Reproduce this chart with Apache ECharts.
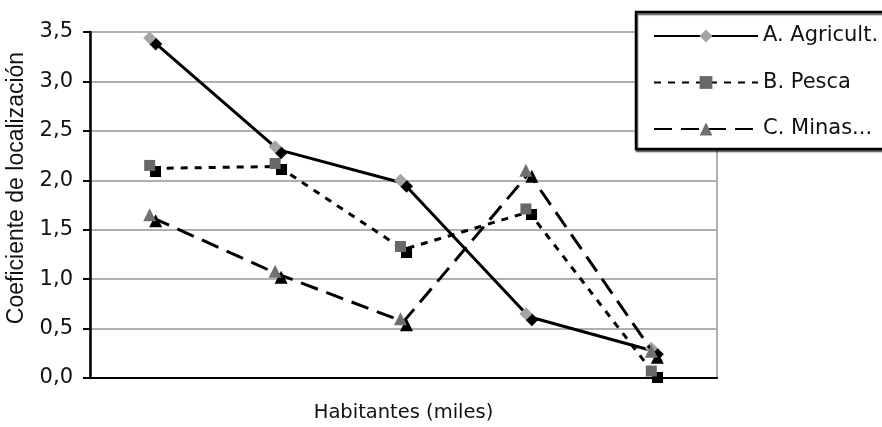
<!DOCTYPE html>
<html>
<head>
<meta charset="utf-8">
<script src="https://cdn.jsdelivr.net/npm/echarts@6/dist/echarts.min.js"></script>
<style>html,body{margin:0;padding:0;background:#fff;}#c{width:882px;height:427px;}</style>
</head>
<body>
<div id="c"></div>
<script>
const categories = ['1', '2', '3', '4', '5'];
const agricultura = [3.41, 2.31, 1.97, 0.62, 0.27];
const pesca = [2.12, 2.14, 1.30, 1.68, 0.04];
const minas = [1.62, 1.05, 0.57, 2.07, 0.24];
const seriesNames = ['A. Agricult.', 'B. Pesca', 'C. Minas...'];
const yTicks = {min: 0, max: 3.5, interval: 0.5};

const chart = echarts.init(document.getElementById('c'), null, {renderer: 'canvas'});
const markerShadow = {shadowColor: '#000', shadowOffsetX: 6, shadowOffsetY: 6, shadowBlur: 0.5};
chart.setOption({
  backgroundColor: '#fff',
  animation: false,
  grid: {left: 90, right: 165, top: 32, bottom: 49, show: true, borderColor: '#b0b0b0', borderWidth: 2,
    containLabel: false, outerBoundsMode: 'none'},
  legend: {
    orient: 'vertical', left: 636, top: 12,
    padding: [12, 14, 8, 17], itemGap: 22.5, itemWidth: 104, itemHeight: 16,
    borderColor: '#000', borderWidth: 2.5, backgroundColor: '#fff',
    shadowColor: 'rgba(0,0,0,0.6)', shadowOffsetX: 1, shadowOffsetY: 2, shadowBlur: 1,
    textStyle: {fontFamily: 'DejaVu Sans', fontSize: 21, color: '#111', lineHeight: 24},
    itemStyle: {shadowColor: 'transparent', shadowOffsetX: 0, shadowOffsetY: 0},
    data: seriesNames
  },
  xAxis: {
    type: 'category', data: categories, boundaryGap: true,
    name: 'Habitantes (miles)', nameLocation: 'middle', nameGap: 25,
    nameTextStyle: {fontFamily: 'DejaVu Sans', fontSize: 19.5, color: '#111'},
    axisLine: {lineStyle: {color: '#000', width: 2}},
    axisTick: {show: false}, axisLabel: {show: false}, splitLine: {show: false}
  },
  yAxis: {
    type: 'value', min: yTicks.min, max: yTicks.max, interval: yTicks.interval,
    name: 'Coeficiente de localización', nameLocation: 'middle', nameGap: 62,
    nameTextStyle: {fontFamily: 'Liberation Sans', fontSize: 23, color: '#111', padding: [0, 0, 0, 34]},
    axisLine: {show: true, lineStyle: {color: '#000', width: 2.5}},
    axisTick: {show: true, length: 7, lineStyle: {color: '#000', width: 2}},
    axisLabel: {fontFamily: 'DejaVu Sans', fontSize: 21, color: '#111', margin: 17,
      formatter: v => v.toFixed(1).replace('.', ',')},
    splitLine: {lineStyle: {color: '#b0b0b0', width: 2}}
  },
  series: [
    {name: seriesNames[0], type: 'line', data: agricultura, symbol: 'diamond', symbolSize: 13,
      symbolOffset: [-3, -3],
      lineStyle: {color: '#000', width: 3, type: 'solid'},
      itemStyle: Object.assign({color: '#a4a4a4', borderColor: '#a4a4a4', borderWidth: 0}, markerShadow), z: 3},
    {name: seriesNames[1], type: 'line', data: pesca, symbol: 'rect', symbolSize: 11,
      symbolOffset: [-3, -3],
      lineStyle: {color: '#000', width: 3, type: [7, 7]},
      itemStyle: Object.assign({color: '#686868', borderWidth: 0}, markerShadow), z: 2},
    {name: seriesNames[2], type: 'line', data: minas, symbol: 'triangle', symbolSize: 13,
      symbolOffset: [-3, -3],
      lineStyle: {color: '#000', width: 3, type: [18, 9]},
      itemStyle: Object.assign({color: '#707070', borderWidth: 0}, markerShadow), z: 4}
  ]
});
</script>
</body>
</html>
